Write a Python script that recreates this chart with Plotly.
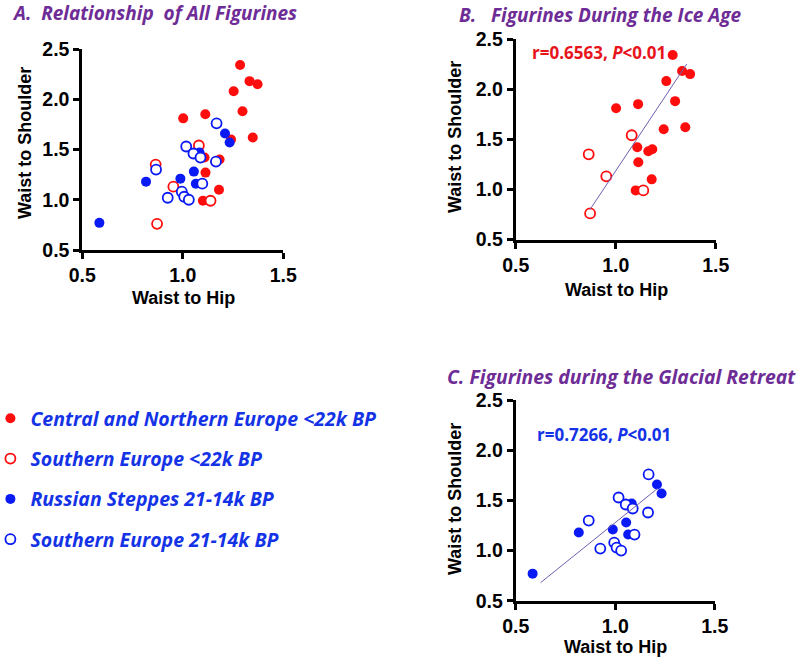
import plotly.graph_objects as go

# Central and Northern Europe <22k BP (filled red)
cn_hip = [1.285, 1.332, 1.372, 1.253, 1.297, 1.002, 1.112, 1.240, 1.348, 1.108, 1.163, 1.183, 1.113, 1.180, 1.100]
cn_sh = [2.34, 2.18, 2.15, 2.08, 1.88, 1.81, 1.85, 1.60, 1.62, 1.42, 1.38, 1.40, 1.27, 1.10, 0.99]

# Southern Europe <22k BP (open red)
se22_hip = [0.865, 1.080, 0.953, 1.138, 0.872]
se22_sh = [1.35, 1.54, 1.13, 0.99, 0.76]

# Russian Steppes 21-14k BP (filled blue)
rs_hip = [0.585, 0.817, 0.988, 1.055, 1.065, 1.083, 1.210, 1.233]
rs_sh = [0.77, 1.18, 1.21, 1.28, 1.16, 1.47, 1.66, 1.57]

# Southern Europe 21-14k BP (open blue)
se14_hip = [0.867, 0.925, 0.995, 1.007, 1.030, 1.017, 1.053, 1.088, 1.097, 1.165, 1.168]
se14_sh = [1.30, 1.02, 1.08, 1.03, 1.00, 1.53, 1.46, 1.42, 1.16, 1.38, 1.76]

# trend lines as drawn in the figure (end points)
ice_trend_hip = [0.872, 1.355]
ice_trend_sh = [0.80, 2.25]
retreat_trend_hip = [0.625, 1.213]
retreat_trend_sh = [0.68, 1.62]

RED = "#ff0d0d"
BLUE = "#0a1af5"
PURPLE = "#6e2c96"
LEGEND_BLUE = "#1433e6"
W, H = 800, 666


def px(x, y):
    return x / W, 1 - y / H


fig = go.Figure()

groups = [
    ("Central and Northern Europe &lt;22k BP", cn_hip, cn_sh, RED, True),
    ("Southern Europe &lt;22k BP", se22_hip, se22_sh, RED, False),
    ("Russian Steppes 21-14k BP", rs_hip, rs_sh, BLUE, True),
    ("Southern Europe 21-14k BP", se14_hip, se14_sh, BLUE, False),
]


def marker(color, filled):
    return dict(
        size=10,
        color=color if filled else "white",
        line=dict(color=color, width=0 if filled else 1.8),
    )


# panel A: everything
for i, (name, x, y, c, filled) in enumerate(groups):
    fig.add_trace(go.Scatter(
        x=x, y=y, mode="markers", name=name, marker=marker(c, filled),
        xaxis="x", yaxis="y", legendgroup=f"g{i}", showlegend=True,
    ))

# panel B: ice age (red) ; panel C: glacial retreat (blue)
panels = (
    ("2", groups[:2], ice_trend_hip, ice_trend_sh),
    ("3", groups[2:], retreat_trend_hip, retreat_trend_sh),
)
for axn, sel, lx, ly in panels:
    for name, x, y, c, filled in sel:
        fig.add_trace(go.Scatter(
            x=x, y=y, mode="markers", marker=marker(c, filled),
            xaxis="x" + axn, yaxis="y" + axn, showlegend=False,
        ))
    fig.add_trace(go.Scatter(
        x=lx, y=ly, mode="lines", line=dict(color="#6f5fb0", width=1),
        xaxis="x" + axn, yaxis="y" + axn, showlegend=False,
    ))

axis_style = dict(
    range=[0.5, 1.5], showline=True, linecolor="black", linewidth=3,
    ticks="outside", ticklen=6, tickwidth=2.5, tickcolor="black",
    showgrid=False, zeroline=False, tickformat=".1f",
    tickfont=dict(family="Liberation Sans, Arial", size=19.5, color="black", weight="bold"),
    fixedrange=True,
)
xtick = dict(axis_style, tickvals=[0.5, 1.0, 1.5])
ytick = dict(axis_style, range=[0.5, 2.5], tickvals=[0.5, 1.0, 1.5, 2.0, 2.5])

# plot areas in pixels: (left, right, top, bottom)
boxes = {
    "": (82.3, 283.3, 49, 250),
    "2": (515.7, 715.7, 39, 239.5),
    "3": (515.7, 714.7, 400.3, 600.7),
}
for k, (l, r, t, b) in boxes.items():
    fig.update_layout(**{
        "xaxis" + k: dict(xtick, domain=[l / W, r / W], anchor="y" + k),
        "yaxis" + k: dict(ytick, domain=[1 - b / H, 1 - t / H], anchor="x" + k),
    })

annotations = []


def text(x, y, s, size, color, angle=0, xanchor="center", family="Liberation Sans, Arial"):
    ax, ay = px(x, y)
    annotations.append(dict(
        x=ax, y=ay, xref="paper", yref="paper", text=s, showarrow=False,
        xanchor=xanchor, yanchor="middle", textangle=angle,
        font=dict(family=family, size=size, color=color),
    ))


title_font = "Open Sans"
text(10, 13, "<b><i>A.  Relationship  of All Figurines</i></b>", 19, PURPLE, xanchor="left", family=title_font)
text(457, 15, "<b><i>B.   Figurines During the Ice Age</i></b>", 19, PURPLE, xanchor="left", family=title_font)
text(445, 377, "<b><i>C. Figurines during the Glacial Retreat</i></b>", 19.4, PURPLE, xanchor="left", family=title_font)

for x, y in ((25, 143), (455, 137), (455, 499)):
    text(x, y, "<b>Waist to Shoulder</b>", 18, "black", angle=-90)
for x, y in ((183, 298), (616, 290), (615, 647)):
    text(x, y, "<b>Waist to Hip</b>", 18, "black")

text(530, 52, "<b>r=0.6563, <i>P</i>&lt;0.01</b>", 17, "#e8141c", xanchor="left", family=title_font)
text(535, 434, "<b>r=0.7266, <i>P</i>&lt;0.01</b>", 17, "#1433e6", xanchor="left", family=title_font)

fig.update_layout(
    width=W, height=H,
    margin=dict(l=0, r=0, t=0, b=0, autoexpand=False),
    paper_bgcolor="white", plot_bgcolor="white",
    annotations=annotations,
    legend=dict(
        x=-0.012, y=1 - 399 / H, xanchor="left", yanchor="top",
        font=dict(family=title_font, size=19.5, color=LEGEND_BLUE, style="italic", weight="bold"),
        tracegroupgap=12, bgcolor="rgba(0,0,0,0)",
    ),
)

# the page body has a default 8px margin; drop it so the figure sits at 0,0
fig.write_html(
    "out.html",
    config={"displayModeBar": False},
    post_script="document.body.style.margin='0';",
)
